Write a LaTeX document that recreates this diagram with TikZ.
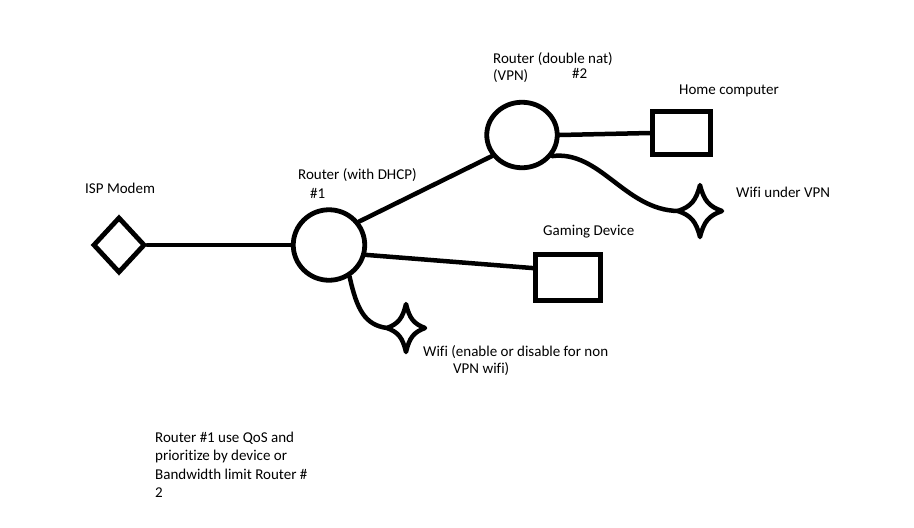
\documentclass[tikz,border=0pt]{standalone}
\usepackage{fontspec}
\setmainfont[Ligatures=NoCommon]{Carlito}
\usetikzlibrary{positioning,shapes.geometric}

\begin{document}
\begin{tikzpicture}[
x=1pt,y=-1pt,
wire/.style={
line width=4.5pt,
line cap=round,
line join=round
},
router/.style={
draw,
ellipse,
line width=4.8pt,
inner sep=0pt
},
device/.style={
draw,
rectangle,
line width=4.8pt,
inner sep=0pt
},
modem/.style={
draw,
diamond,
line width=4.8pt,
inner sep=0pt,
minimum width=52pt,
minimum height=56pt
},
note/.style={
font=\fontsize{15pt}{18.3pt}\selectfont,
inner sep=0pt,
anchor=base west,
align=left
},
sparkle/.pic={
\draw[wire] (0,-1) .. controls (0.18,-0.4) and (0.4,-0.18) .. (1,0)
.. controls (0.4,0.18) and (0.18,0.4) .. (0,1)
.. controls (-0.18,0.4) and (-0.4,0.18) .. (-1,0)
.. controls (-0.4,-0.18) and (-0.18,-0.4) .. cycle;
\coordinate (-left) at (-1,0);
}
]

\path[use as bounding box,fill=white] (0,0) rectangle (914,528);

\node[modem] (modem) at (119,245) {};
\node[router,minimum width=71.5pt,minimum height=70.5pt] (r1) at (329,245) {};
\node[router,minimum width=70.5pt,minimum height=65.5pt] (r2) at (522,135) {};
\node[device,minimum width=58.5pt,minimum height=43.5pt] (home) at (681.5,133) {};
\node[device,minimum width=65.5pt,minimum height=46.5pt] (game) at (568,277.5) {};
\pic[xscale=19,yscale=24] (wifiA) at (406,328) {sparkle};
\pic[xscale=22,yscale=26] (wifiB) at (700,211) {sparkle};

\draw[wire] (modem.east) -- (r1.west);
\draw[wire] (r1.38) -- (r2.215);
\draw[wire] (r1.-15) -- (game.165);
\draw[wire] (r2.east) -- (home.west);
\draw[wire] (r1.-57) .. controls (357,310) and (365,325) .. (wifiA-left);
\draw[wire] (r2.-35) .. controls (600,150) and (625,210) .. (wifiB-left);

\node[note] (modemtxt) at (85,193) {ISP Modem};
\node[note] (r1txt) at (298,179) {Router (with DHCP)};
\node[note] (r1num) at (310,198) {\#1};
\node[note] (r2txt) at (493,63) {Router (double nat)};
\node[note] (r2vpn) at (493,80) {(VPN)};
\node[note] (r2num) at (572,78) {\#2};
\node[note] (hometxt) at (679,94) {Home computer};
\node[note] (wifiBtxt) at (736,197) {Wifi under VPN};
\node[note] (gametxt) at (543,235) {Gaming Device};
\node[note] (wifiAtxt) at (423,356) {Wifi (enable or disable for non};
\node[note] (wifiAvpn) at (453,373) {VPN wifi)};
\node[note,anchor=north west] (qostxt) at (155,432) {Router \#1 use QoS and\\prioritize by device or\\Bandwidth limit Router \#\\2};
\end{tikzpicture}
\end{document}
